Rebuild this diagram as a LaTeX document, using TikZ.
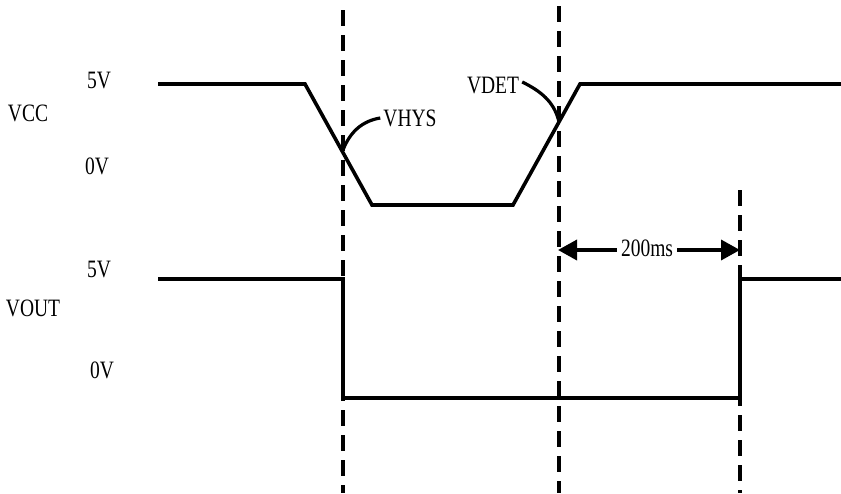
\documentclass[tikz,border=0pt]{standalone}
\usepackage{fontspec}
\setmainfont{Liberation Serif}[FakeStretch=0.78]
\usetikzlibrary{arrows.meta}
\tikzset{
  wave/.style={line width=3.6pt, line join=miter},
  guide/.style={line width=3.4pt, dash pattern=on 16pt off 9pt},
  lbl/.style={inner sep=0pt, font=\fontsize{25}{27}\selectfont},
  callout/.style={line width=3.2pt},
  span/.style={line width=3.6pt, -{Triangle[length=19pt,width=20pt]}}
}
\begin{document}
\begin{tikzpicture}[x=1pt,y=-1pt]
\useasboundingbox (0,0) rectangle (841,493);
% guides
\coordinate (g1t) at (343,10); \coordinate (g1b) at (343,493);
\coordinate (g2t) at (559,6);  \coordinate (g2b) at (559,493);
\coordinate (g3t) at (740,190); \coordinate (g3b) at (740,493);
\draw[guide] (g1t) -- (g1b);
\draw[guide] (g2t) -- (g2b);
\draw[guide] (g3t) -- (g3b);
% VCC waveform
\coordinate (v0) at (158,84);
\coordinate (v1) at (305,84);
\coordinate (v2) at (372,205);
\coordinate (v3) at (513,205);
\coordinate (v4) at (580,84);
\coordinate (v5) at (841,84);
\draw[wave] (v0) -- (v1) -- (v2) -- (v3) -- (v4) -- (v5);
% VOUT waveform
\coordinate (o0) at (158,279);
\coordinate (o1) at (343,279);
\coordinate (o2) at (343,398);
\coordinate (o3) at (740,398);
\coordinate (o4) at (740,279);
\coordinate (o5) at (841,279);
\draw[wave] (o0) -- (o1) -- (o2) -- (o3) -- (o4) -- (o5);
% labels
\node[lbl] (vcc) at (28,113) {VCC};
\node[lbl] (v5v) at (99,81) {5V};
\node[lbl] (v0v) at (97,166) {0V};
\node[lbl] (vout) at (33,308) {VOUT};
\node[lbl] (o5v) at (99,269) {5V};
\node[lbl] (o0v) at (102,370) {0V};
\node[lbl] (vhys) at (410,118) {VHYS};
\node[lbl] (vdet) at (493,86) {VDET};
% callouts
\coordinate (xh) at (343,150);
\coordinate (xd) at (559,122);
\draw[callout] ([xshift=-3pt]vhys.west) .. controls (362,121) and (350,132) .. (xh);
\draw[callout] ([xshift=3pt,yshift=4pt]vdet.east) .. controls (545,93) and (555,105) .. (xd);
% 200ms span
\node[lbl] (ms) at (647,248) {200ms};
\coordinate (a1) at (558,250);
\coordinate (a2) at (740,250);
\draw[span] ([xshift=-4pt]ms.west |- a1) -- (a1);
\draw[span] ([xshift=4pt]ms.east |- a2) -- (a2);
\end{tikzpicture}
\end{document}
